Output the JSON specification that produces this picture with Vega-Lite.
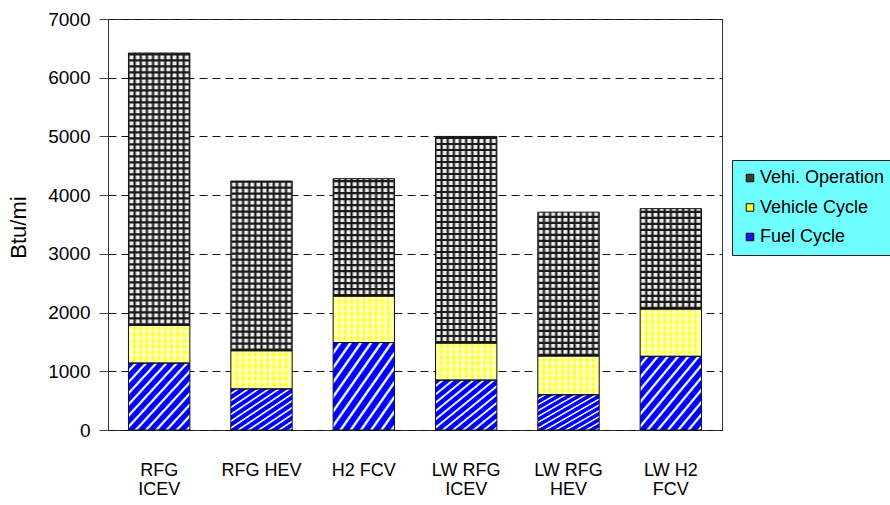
{
  "$schema": "https://vega.github.io/schema/vega-lite/v6.json",
  "width": 614,
  "height": 411,
  "autosize": {"type": "none"},
  "padding": {"left": 108, "top": 19, "right": 168, "bottom": 75},
  "background": "white",
  "config": {
    "font": "Liberation Sans",
    "view": {"stroke": "#333", "strokeWidth": 1}
  },
  "data": {
    "values": [
      {"vehicle": "RFG ICEV", "stage": "Fuel Cycle", "value": 1140},
      {"vehicle": "RFG ICEV", "stage": "Vehicle Cycle", "value": 640},
      {"vehicle": "RFG ICEV", "stage": "Vehi. Operation", "value": 4640},
      {"vehicle": "RFG HEV", "stage": "Fuel Cycle", "value": 700},
      {"vehicle": "RFG HEV", "stage": "Vehicle Cycle", "value": 650},
      {"vehicle": "RFG HEV", "stage": "Vehi. Operation", "value": 2890},
      {"vehicle": "H2 FCV", "stage": "Fuel Cycle", "value": 1490},
      {"vehicle": "H2 FCV", "stage": "Vehicle Cycle", "value": 790},
      {"vehicle": "H2 FCV", "stage": "Vehi. Operation", "value": 2000},
      {"vehicle": "LW RFG ICEV", "stage": "Fuel Cycle", "value": 850},
      {"vehicle": "LW RFG ICEV", "stage": "Vehicle Cycle", "value": 630},
      {"vehicle": "LW RFG ICEV", "stage": "Vehi. Operation", "value": 3520},
      {"vehicle": "LW RFG HEV", "stage": "Fuel Cycle", "value": 600},
      {"vehicle": "LW RFG HEV", "stage": "Vehicle Cycle", "value": 660},
      {"vehicle": "LW RFG HEV", "stage": "Vehi. Operation", "value": 2450},
      {"vehicle": "LW H2 FCV", "stage": "Fuel Cycle", "value": 1255},
      {"vehicle": "LW H2 FCV", "stage": "Vehicle Cycle", "value": 805},
      {"vehicle": "LW H2 FCV", "stage": "Vehi. Operation", "value": 1710}
    ]
  },
  "transform": [
    {"stack": "value", "groupby": ["vehicle"], "as": ["y0", "y1"]}
  ],
  "encoding": {
    "x": {
      "field": "vehicle",
      "type": "nominal",
      "sort": null,
      "scale": {"paddingInner": 0.4, "paddingOuter": 0.2},
      "axis": {
        "title": null,
        "labelAngle": 0,
        "ticks": false,
        "domain": false,
        "labelFont": "Liberation Sans Narrow, Arial Narrow, Liberation Sans",
        "labelFontSize": 18,
        "labelColor": "#000",
        "labelPadding": 31,
        "labelLineHeight": 19,
        "labelExpr": "datum.value == 'RFG ICEV' ? ['RFG', 'ICEV'] : datum.value == 'LW RFG ICEV' ? ['LW RFG', 'ICEV'] : datum.value == 'LW RFG HEV' ? ['LW RFG', 'HEV'] : datum.value == 'LW H2 FCV' ? ['LW H2', 'FCV'] : datum.value"
      }
    },
    "y": {
      "field": "y0",
      "type": "quantitative",
      "scale": {"domain": [0, 7000], "nice": false},
      "axis": {
        "title": "Btu/mi",
        "titleFont": "Liberation Sans",
        "titleFontSize": 22,
        "titleFontWeight": "normal",
        "titleColor": "#000",
        "titlePadding": 17,
        "titleY": 208,
        "values": [0, 1000, 2000, 3000, 4000, 5000, 6000, 7000],
        "format": "d",
        "labelFontSize": 19,
        "labelColor": "#000",
        "labelPadding": 9,
        "tickSize": 9,
        "tickColor": "#444",
        "domain": false,
        "grid": true,
        "gridColor": "#111",
        "gridDash": [8, 5],
        "gridWidth": 1
      }
    },
    "y2": {"field": "y1"}
  },
  "layer": [
    {
      "mark": {"type": "bar", "opacity": 0},
      "encoding": {
        "color": {
          "field": "stage",
          "type": "nominal",
          "scale": {
            "domain": ["Vehi. Operation", "Vehicle Cycle", "Fuel Cycle"],
            "range": ["#3a3a3a", "#FFFF30", "#1414FF"]
          },
          "legend": {
            "title": null,
            "orient": "none",
            "legendX": 624,
            "legendY": 141,
            "direction": "vertical",
            "fillColor": "#70FFFF",
            "strokeColor": "#222",
            "padding": 9,
            "symbolType": "square",
            "symbolSize": 56,
            "symbolOpacity": 1,
            "symbolStrokeColor": "#000",
            "symbolStrokeWidth": 1,
            "labelFontSize": 18,
            "labelColor": "#000",
            "labelOffset": 1,
            "rowPadding": 11.5,
            "labelLimit": 300
          }
        }
      }
    },
    {
      "transform": [{"filter": "datum.stage == 'Vehi. Operation'"}],
      "mark": {
        "type": "bar",
        "color": {
          "gradient": "linear", "x1": 0, "y1": 0, "x2": 1, "y2": 0,
          "stops": [
            {"offset": 0, "color": "#111"}, {"offset": 0.035, "color": "#eeeeee"}, {"offset": 0.065, "color": "#eeeeee"},
            {"offset": 0.1, "color": "#111"}, {"offset": 0.135, "color": "#eeeeee"}, {"offset": 0.165, "color": "#eeeeee"},
            {"offset": 0.2, "color": "#111"}, {"offset": 0.235, "color": "#eeeeee"}, {"offset": 0.265, "color": "#eeeeee"},
            {"offset": 0.3, "color": "#111"}, {"offset": 0.335, "color": "#eeeeee"}, {"offset": 0.365, "color": "#eeeeee"},
            {"offset": 0.4, "color": "#111"}, {"offset": 0.435, "color": "#eeeeee"}, {"offset": 0.465, "color": "#eeeeee"},
            {"offset": 0.5, "color": "#111"}, {"offset": 0.535, "color": "#eeeeee"}, {"offset": 0.565, "color": "#eeeeee"},
            {"offset": 0.6, "color": "#111"}, {"offset": 0.635, "color": "#eeeeee"}, {"offset": 0.665, "color": "#eeeeee"},
            {"offset": 0.7, "color": "#111"}, {"offset": 0.735, "color": "#eeeeee"}, {"offset": 0.765, "color": "#eeeeee"},
            {"offset": 0.8, "color": "#111"}, {"offset": 0.835, "color": "#eeeeee"}, {"offset": 0.865, "color": "#eeeeee"},
            {"offset": 0.9, "color": "#111"}, {"offset": 0.935, "color": "#eeeeee"}, {"offset": 0.965, "color": "#eeeeee"},
            {"offset": 1, "color": "#111"}
          ]
        }
      }
    },
    {
      "transform": [{"filter": "datum.stage == 'Vehi. Operation'"}],
      "mark": {"type": "rule", "stroke": "#1a1a1a", "strokeWidth": 60, "strokeCap": "butt", "strokeDash": [2.2, 3.8]}
    },
    {
      "transform": [{"filter": "datum.stage == 'Vehicle Cycle'"}],
      "mark": {
        "type": "bar",
        "color": {
          "gradient": "linear", "x1": 0, "y1": 0, "x2": 1, "y2": 0,
          "stops": [
            {"offset": 0, "color": "#FFFF00"}, {"offset": 0.05, "color": "#FFFFD8"},
            {"offset": 0.1, "color": "#FFFF00"}, {"offset": 0.15, "color": "#FFFFD8"},
            {"offset": 0.2, "color": "#FFFF00"}, {"offset": 0.25, "color": "#FFFFD8"},
            {"offset": 0.3, "color": "#FFFF00"}, {"offset": 0.35, "color": "#FFFFD8"},
            {"offset": 0.4, "color": "#FFFF00"}, {"offset": 0.45, "color": "#FFFFD8"},
            {"offset": 0.5, "color": "#FFFF00"}, {"offset": 0.55, "color": "#FFFFD8"},
            {"offset": 0.6, "color": "#FFFF00"}, {"offset": 0.65, "color": "#FFFFD8"},
            {"offset": 0.7, "color": "#FFFF00"}, {"offset": 0.75, "color": "#FFFFD8"},
            {"offset": 0.8, "color": "#FFFF00"}, {"offset": 0.85, "color": "#FFFFD8"},
            {"offset": 0.9, "color": "#FFFF00"}, {"offset": 0.95, "color": "#FFFFD8"},
            {"offset": 1, "color": "#FFFF00"}
          ]
        }
      }
    },
    {
      "transform": [{"filter": "datum.stage == 'Vehicle Cycle'"}],
      "mark": {"type": "rule", "stroke": "#FFFFFF", "opacity": 0.4, "strokeWidth": 60, "strokeCap": "butt", "strokeDash": [3, 3]}
    },
    {
      "transform": [{"filter": "datum.stage == 'Fuel Cycle'"}],
      "mark": {
        "type": "bar",
        "color": {
          "gradient": "linear", "x1": 0, "y1": 0, "x2": 1, "y2": 1,
          "stops": [
            {"offset": 0, "color": "#0000FF"},
            {"offset": 0.0417, "color": "#0000FF"}, {"offset": 0.0542, "color": "#F0F0FF"}, {"offset": 0.0667, "color": "#F0F0FF"}, {"offset": 0.0792, "color": "#0000FF"},
            {"offset": 0.125, "color": "#0000FF"}, {"offset": 0.1375, "color": "#F0F0FF"}, {"offset": 0.15, "color": "#F0F0FF"}, {"offset": 0.1625, "color": "#0000FF"},
            {"offset": 0.2083, "color": "#0000FF"}, {"offset": 0.2208, "color": "#F0F0FF"}, {"offset": 0.2333, "color": "#F0F0FF"}, {"offset": 0.2458, "color": "#0000FF"},
            {"offset": 0.2917, "color": "#0000FF"}, {"offset": 0.3042, "color": "#F0F0FF"}, {"offset": 0.3167, "color": "#F0F0FF"}, {"offset": 0.3292, "color": "#0000FF"},
            {"offset": 0.375, "color": "#0000FF"}, {"offset": 0.3875, "color": "#F0F0FF"}, {"offset": 0.4, "color": "#F0F0FF"}, {"offset": 0.4125, "color": "#0000FF"},
            {"offset": 0.4583, "color": "#0000FF"}, {"offset": 0.4708, "color": "#F0F0FF"}, {"offset": 0.4833, "color": "#F0F0FF"}, {"offset": 0.4958, "color": "#0000FF"},
            {"offset": 0.5417, "color": "#0000FF"}, {"offset": 0.5542, "color": "#F0F0FF"}, {"offset": 0.5667, "color": "#F0F0FF"}, {"offset": 0.5792, "color": "#0000FF"},
            {"offset": 0.625, "color": "#0000FF"}, {"offset": 0.6375, "color": "#F0F0FF"}, {"offset": 0.65, "color": "#F0F0FF"}, {"offset": 0.6625, "color": "#0000FF"},
            {"offset": 0.7083, "color": "#0000FF"}, {"offset": 0.7208, "color": "#F0F0FF"}, {"offset": 0.7333, "color": "#F0F0FF"}, {"offset": 0.7458, "color": "#0000FF"},
            {"offset": 0.7917, "color": "#0000FF"}, {"offset": 0.8042, "color": "#F0F0FF"}, {"offset": 0.8167, "color": "#F0F0FF"}, {"offset": 0.8292, "color": "#0000FF"},
            {"offset": 0.875, "color": "#0000FF"}, {"offset": 0.8875, "color": "#F0F0FF"}, {"offset": 0.9, "color": "#F0F0FF"}, {"offset": 0.9125, "color": "#0000FF"},
            {"offset": 0.9583, "color": "#0000FF"}, {"offset": 0.9708, "color": "#F0F0FF"}, {"offset": 0.9833, "color": "#F0F0FF"}, {"offset": 0.9958, "color": "#0000FF"},
            {"offset": 1, "color": "#0000FF"}
          ]
        }
      }
    },
    {
      "mark": {"type": "bar", "filled": false, "stroke": "#111", "strokeWidth": 1}
    }
  ]
}
